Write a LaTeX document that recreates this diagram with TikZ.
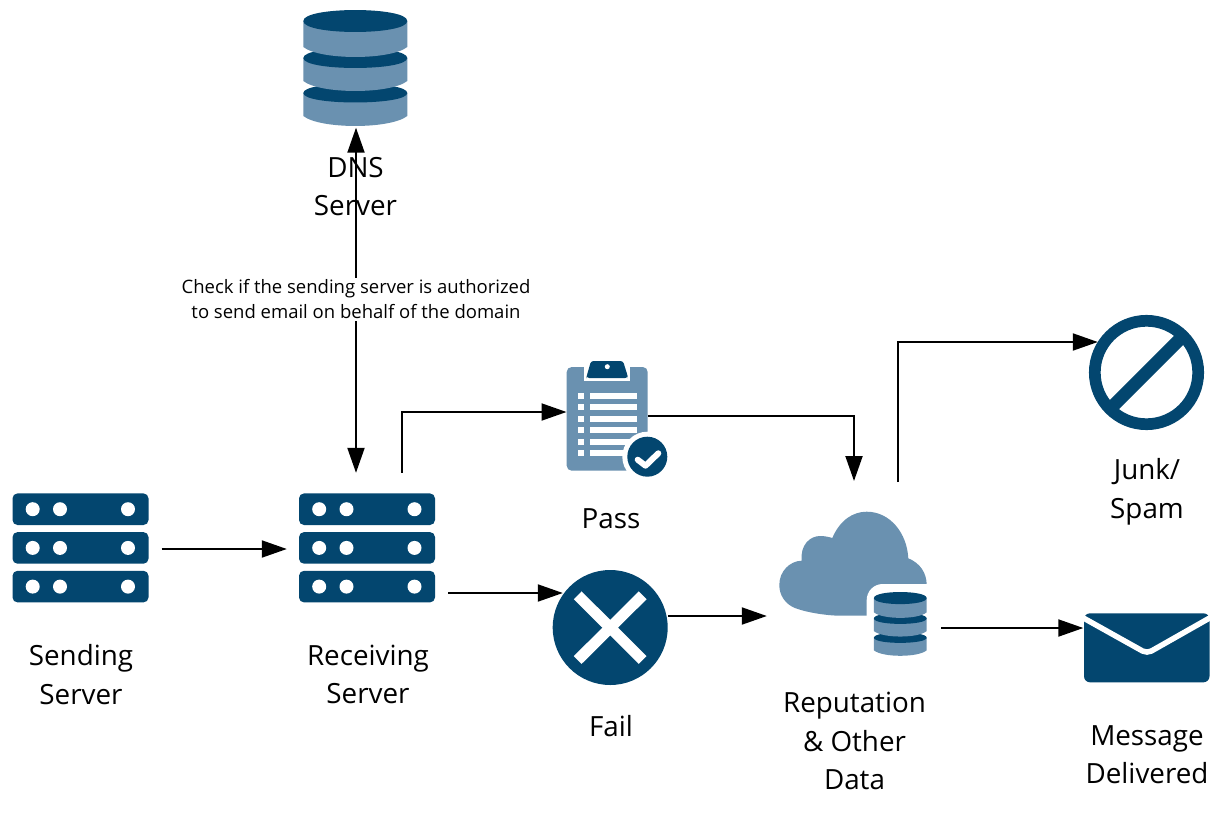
\documentclass[tikz,border=0pt]{standalone}
\usepackage{fontspec}
\setmainfont{Open Sans}
\usetikzlibrary{arrows.meta,calc}
\definecolor{navy}{HTML}{03466F}
\definecolor{steel}{HTML}{6A91B0}
\tikzset{
  lbl/.style={align=center,font=\fontsize{27.8}{38.5}\selectfont,text=black,inner sep=0pt},
  note/.style={align=center,font=\fontsize{18.5}{25}\selectfont,fill=white,inner sep=2pt},
  iconbox/.style={inner sep=0pt,minimum width=#1},
  link/.style={line width=2pt,draw=black,-{Triangle[length=25pt,width=17pt]}},
  twolink/.style={line width=2pt,draw=black,{Triangle[length=25pt,width=17pt]}-{Triangle[length=25pt,width=17pt]}},
  dk/.style={fill=navy,draw=none},
  lt/.style={fill=steel,draw=none}
}
\newcommand{\srvicon}[2]{%
  \begin{scope}[shift={(#1,#2)}]
    \foreach \yy in {0,38.7,77.4}{
      \fill[navy,rounded corners=5pt] (0,\yy) rectangle (136,\yy+31.6);
      \foreach \xx in {20.2,47.5,115.5}{\fill[white] (\xx,\yy+15.8) circle[radius=7pt];}
    }
  \end{scope}}
\newcommand{\dbseg}[3]{%
  \path[lt] (-52,#1) -- (-52,#2) .. controls (-35,#2+13.3) and (35,#2+13.3) .. (52,#2) -- (52,#1) -- cycle;
  \path[dk] (-52,#1) .. controls (-52,#1-#3*1.33) and (52,#1-#3*1.33) .. (52,#1) .. controls (52,#1+#3*1.33) and (-52,#1+#3*1.33) .. (-52,#1) -- cycle;}
\newcommand{\dbicon}[4]{%
  \begin{scope}[shift={(#1,#2)},xscale=#3,yscale=#4]
    \dbseg{93}{116}{9.5}
    \dbseg{58}{81}{10}
    \dbseg{21}{47}{11}
  \end{scope}}
\begin{document}
\begin{tikzpicture}[x=1pt,y=-1pt]
\useasboundingbox (0,0) rectangle (1229,814);
\fill[white] (0,0) rectangle (1229,814);

% icon boxes
\node[iconbox=136pt,minimum height=110pt] (send) at (80.5,548) {};
\node[iconbox=136pt,minimum height=110pt] (recv) at (367,548) {};
\node[iconbox=104pt,minimum height=116pt] (dns) at (356,68) {};
\node[iconbox=81pt,minimum height=110pt] (pass) at (607.2,416) {};
\node[iconbox=116pt,minimum height=116pt] (fail) at (610,627) {};
\node[iconbox=148pt,minimum height=146pt] (rep) at (853,583) {};
\node[iconbox=116pt,minimum height=116pt] (junk) at (1146,372) {};
\node[iconbox=126pt,minimum height=69pt] (msg) at (1146.5,648) {};

% servers
\srvicon{12.5}{493.4}
\srvicon{299}{493.4}
% DNS
\dbicon{355.3}{0}{1}{1}

% clipboard
\fill[steel,rounded corners=5pt] (566.7,367) rectangle (647.7,470.7);
\fill[white] (584,365) -- (630,365) -- (630,381) -- (584,381) -- cycle;
\fill[navy,rounded corners=2.5pt] (591,361) -- (623,361) -- (627.7,376) -- (627.7,378) -- (586.7,378) -- (586.7,376) -- cycle;
\fill[white] (607.3,366.7) circle[radius=2.5pt];
\foreach \yy in {395.7,407.3,419,430.3,442,453.3}{
  \fill[white] (578.3,\yy-3) rectangle (584,\yy+3);
  \fill[white] (590,\yy-3) rectangle (636.7,\yy+3);
}
\fill[white] (647.3,456.7) circle[radius=25pt];
\fill[navy] (647.3,456.7) circle[radius=20pt];
\draw[white,line width=6pt,line cap=round,line join=round] (637.7,459.7) -- (645.5,465.7) -- (658.3,453.3);

% fail
\fill[navy] (610.2,627.5) circle[radius=57.5pt];
\draw[white,line width=11pt] (577.7,595.3) -- (642.7,660) (642.7,595.3) -- (577.7,660);

% prohibit
\draw[navy,line width=11.7pt] (1146.5,372.5) circle[radius=51.7pt];
\draw[navy,line width=13pt] (1110,409) -- (1183,336);

% envelope
\fill[navy,rounded corners=6pt] (1084,613.3) rectangle (1209.5,682.3);
\draw[white,line width=5.5pt,rounded corners=5pt] (1082,617.2) -- (1147,653.5) -- (1211,617.2);

% cloud
\fill[steel] (866.7,615.7) -- (840,615.7) .. controls (825,615.5) and (805,612) .. (795,608)
  .. controls (785,604) and (779.3,595) .. (779.3,585)
  .. controls (779.3,571) and (790,561) .. (801.7,560.7)
  .. controls (800,545) and (810,536) .. (820,536)
  .. controls (825,536) and (829,537) .. (832.3,538)
  .. controls (840,520) and (853,511.7) .. (866.7,511.7)
  .. controls (890,511.7) and (907,533) .. (908.3,558.3)
  .. controls (920,563) and (926.7,573) .. (926.7,585) -- (926.7,620) -- cycle;
\fill[white,rounded corners=16pt] (866.7,640) -- (866.7,584) -- (945,584) -- (945,640) -- cycle;
\dbicon{900.3}{586.5}{0.507}{0.55}

% connectors
\draw[link] ([xshift=13pt,yshift=-1pt]send.east) -- ([xshift=-12pt,yshift=-1pt]recv.west);
\draw[twolink] ([yshift=-1.5pt]dns.south) -- ([xshift=-11pt,yshift=20pt]recv.north);
\draw[link] ([xshift=35pt,yshift=20pt]recv.north) |- ([yshift=4pt]pass.west);
\draw[link] ([xshift=13pt,yshift=-45pt]recv.east) -- ([xshift=11pt,yshift=34pt]fail.west);
\draw[link] (pass.east) -- (854,416) -- (854,481);
\draw[link] (fail.east |- 0,616) -- ([xshift=-12pt]rep.west |- 0,616);
\draw[link] (898,482) -- (898,342) -- ([xshift=10pt]junk.west |- 0,342);
\draw[link] ([xshift=14pt]rep.east |- 0,628) -- (msg.west |- 0,628);

% labels
\node[lbl] (t1) at (81,674.5) {Sending\\Server};
\node[lbl] (t2) at (368,674.5) {Receiving\\Server};
\node[lbl] (t3) at (355.5,186.5) {DNS\\Server};
\node[lbl] (t4) at (611,519) {Pass};
\node[lbl] (t5) at (611,726) {Fail};
\node[lbl] (t6) at (854.5,741) {Reputation\\\& Other\\Data};
\node[lbl] (t7) at (1147,492) {Junk/\\Spam};
\node[lbl] (t8) at (1147,754.5) {Message\\Delivered};
\node[note] (t9) at (356,299.5) {Check if the sending server is authorized\\to send email on behalf of the domain};
\end{tikzpicture}
\end{document}
